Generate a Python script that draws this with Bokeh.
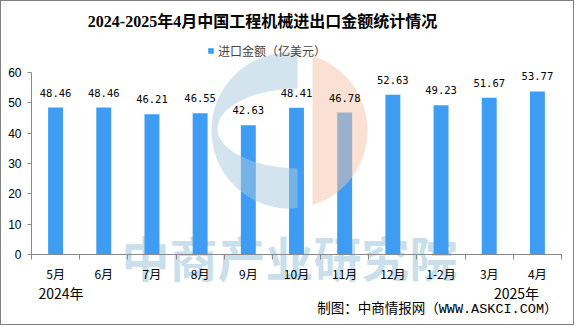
import numpy as np
from bokeh.plotting import figure
from bokeh.models import (Range1d, FixedTicker, LinearAxis, Label, LabelSet,
                          ColumnDataSource, Legend, LegendItem, CustomJSTickFormatter)
from bokeh.core.properties import value
from bokeh.embed import file_html
from bokeh.resources import INLINE

# ---------------- data ----------------
categories = ["5月", "6月", "7月", "8月", "9月", "10月", "11月", "12月", "1-2月", "3月", "4月"]
values = [48.46, 48.46, 46.21, 46.55, 42.63, 48.41, 46.78, 52.63, 49.23, 51.67, 53.77]
y_ticks = [0, 10, 20, 30, 40, 50, 60]
series_name = "进口金额（亿美元）"
title_text = "2024-2025年4月中国工程机械进出口金额统计情况"
year_labels = ["2024年", "2025年"]
source_text = "制图：中商情报网（WWW.ASKCI.COM）"
watermark_text = "中商产业研究院"

# ---------------- layout ----------------
W, H = 574, 325            # canvas inside a 1px page border
n = len(categories)
YMAX = 60
X0, X1 = 30.0, 560.0       # canvas x of category edge 0 and n
Y0, Y1 = 253.0, 71.0       # canvas y of value 0 and YMAX
sx = (X1 - X0) / n
sy = (Y0 - Y1) / YMAX

def dx(cx):
    return (cx - X0) / sx

def dy(cy):
    return (Y0 - cy) / sy

BAR = "#3e9df2"
AXIS = "#898989"

p = figure(width=W, height=H,
           x_range=Range1d(dx(0), dx(W)), y_range=Range1d(dy(H), dy(0)),
           x_axis_type=None, y_axis_type=None, output_backend="svg",
           toolbar_location=None, min_border=0)
p.outline_line_color = None
p.background_fill_color = "white"
p.border_fill_color = "white"
p.styles = {"border": "1px solid #808080"}
p.extra_x_ranges = {"px": Range1d(0, W)}
p.extra_y_ranges = {"px": Range1d(H, 0)}

# watermark text (behind bars)
p.add_layout(Label(x=dx(288), y=dy(254), text=watermark_text, text_align="center",
                   text_baseline="middle", text_font="Noto Sans CJK SC",
                   text_font_style="bold", text_font_size="48px",
                   text_color="#c9dfec", level="underlay"))

src = ColumnDataSource(dict(
    x=[i + 0.5 for i in range(n)],
    top=values,
    lab=["%.2f" % v for v in values],
))
bars = p.vbar(x="x", top="top", width=0.31, source=src, fill_color=BAR, line_color=None)

# logo overlay (canvas pixel coordinates)
cx0, cy0, Rr = 288.0, 129.0, 78.0
xr = 296.0
th = np.arccos((xr - cx0) / Rr)
a = np.linspace(th, 2 * np.pi - th, 90)
ox = cx0 + Rr * np.cos(a)
oy = cy0 - Rr * np.sin(a)
ex, ey, ea, eb = 299.0, 127.0, 83.0, 40.0
ti = np.arccos((xr - ex) / ea)
u = np.linspace(2 * np.pi - ti, ti, 70)
ix = ex + ea * np.cos(u)
iy = ey - eb * np.sin(u)
p.patch(list(ox) + list(ix), list(oy) + list(iy), x_range_name="px", y_range_name="px",
        fill_color="#a9c9dd", fill_alpha=0.5, line_alpha=0)
phi = np.arccos((311.0 - cx0) / Rr)
b = np.linspace(-phi, phi, 60)
p.patch(list(cx0 + Rr * np.cos(b)), list(cy0 - Rr * np.sin(b)), x_range_name="px",
        y_range_name="px", fill_color="#f5c3a8", fill_alpha=0.5, line_alpha=0)

# data labels
p.add_layout(LabelSet(x="x", y="top", text="lab", source=src, y_offset=15,
                      text_align="center", text_baseline="middle",
                      text_font=value("DejaVu Sans Mono"), text_font_size=value("10.5px"),
                      text_color="black"))

# axes (fixed at the data origin)
yaxis = LinearAxis(ticker=FixedTicker(ticks=y_ticks), fixed_location=0, bounds=(0, YMAX))
yaxis.axis_line_color = AXIS
yaxis.major_tick_line_color = AXIS
yaxis.major_tick_out = 4
yaxis.major_tick_in = 0
yaxis.minor_tick_line_color = None
yaxis.major_label_standoff = 6
yaxis.major_label_text_font = "Liberation Sans"
yaxis.major_label_text_font_size = "12px"
yaxis.major_label_text_color = "black"
p.add_layout(yaxis, "left")

xaxis = LinearAxis(ticker=FixedTicker(ticks=[i + 0.5 for i in range(n)],
                                      minor_ticks=list(range(n + 1))),
                   fixed_location=0, bounds=(0, n))
xaxis.formatter = CustomJSTickFormatter(args=dict(cats=categories),
                                        code="return cats[Math.floor(tick)];")
xaxis.axis_line_color = AXIS
xaxis.major_tick_line_color = None
xaxis.major_tick_out = 0
xaxis.major_tick_in = 0
xaxis.minor_tick_line_color = AXIS
xaxis.minor_tick_out = 5
xaxis.minor_tick_in = 0
xaxis.major_label_standoff = 5
xaxis.major_label_text_font = "Noto Sans CJK SC"
xaxis.major_label_text_font_size = "12px"
xaxis.major_label_text_color = "black"
p.add_layout(xaxis, "below")

# legend
legend = Legend(items=[LegendItem(label=series_name, renderers=[bars])],
                location=(206, H - 58), orientation="horizontal",
                glyph_width=7, glyph_height=7, label_standoff=4,
                label_text_font="Noto Sans CJK SC", label_text_font_size="12px",
                label_height=12, padding=0, margin=0, spacing=0,
                border_line_alpha=0, background_fill_alpha=0)
p.add_layout(legend, "center")

# title / annotations
p.add_layout(Label(x=dx(261), y=dy(20), text=title_text, text_align="center",
                   text_baseline="middle", text_font="Liberation Serif, Noto Sans CJK SC",
                   text_font_style="bold", text_font_size="16px", text_color="black"))
p.add_layout(Label(x=dx(59.5), y=dy(291.5), text=year_labels[0], text_align="center",
                   text_baseline="middle", text_font="Noto Sans CJK SC",
                   text_font_size="14px", text_color="black"))
p.add_layout(Label(x=dx(515), y=dy(291), text=year_labels[1], text_align="center",
                   text_baseline="middle", text_font="Noto Sans CJK SC",
                   text_font_size="14px", text_color="black"))
p.add_layout(Label(x=dx(556), y=dy(308), text=source_text, text_align="right",
                   text_baseline="middle", text_font="Liberation Mono, Noto Sans CJK SC",
                   text_font_size="13.5px", text_color="black"))

open("out.html", "w").write(file_html(p, INLINE))
